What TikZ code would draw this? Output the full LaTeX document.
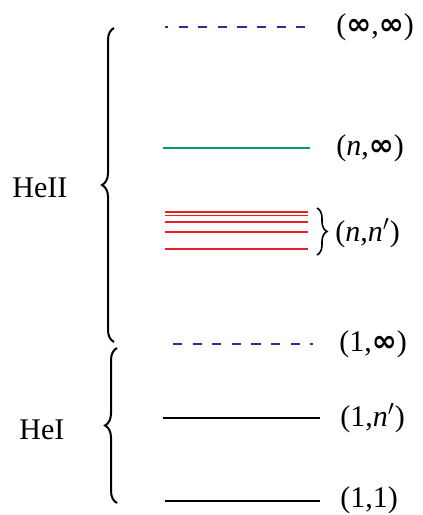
\documentclass[tikz,border=0pt]{standalone}
\usepackage{fontspec}
\setmainfont{Liberation Serif}
\newfontfamily\symfont{DejaVu Sans}
\usetikzlibrary{decorations.pathreplacing}
\definecolor{lvblue}{RGB}{45,45,150}
\definecolor{lvgreen}{RGB}{0,160,90}
\definecolor{lvred}{RGB}{235,30,35}
\newcommand{\infsym}{{\symfont\bfseries ∞}}
\tikzset{
  level/.style={line width=0.75pt},
  dashlevel/.style={level,lvblue,dash pattern=on 4.6pt off 5.2pt},
  lbl/.style={anchor=west,inner sep=0pt,font=\fontsize{15}{17}\selectfont},
  bigbrace/.style={decorate,decoration={brace,amplitude=6pt},line width=1pt},
}
\begin{document}
\begin{tikzpicture}[x=0.5pt,y=-0.5pt]
    \useasboundingbox (0,0) rectangle (423,515);
    % HeII levels
    \draw[dashlevel,dash phase=3pt] (165,27)--(315,27); %(inf,inf)
    \node[lbl] (infinf) at (336,27) {(\infsym,\infsym)};
    \draw[level,lvgreen] (163,148)--(310,148); %(n,inf)
    \node[lbl] (ninf) at (336,148) {(\textit{n},\infsym)};
    \foreach \y in {212,215.5,222,232,249}
        \draw[level,lvred] (165,\y)--(308,\y); %(n,n')
    \draw[bigbrace,decoration={amplitude=5pt},line width=0.8pt] (317,208)--(317,255);
    \node[lbl] (nnp) at (335,233) {(\textit{n},\textit{n}$'$)};
    % HeI levels
    \draw[dashlevel] (173,344)--(313,344); %(1,inf)
    \node[lbl] (oneinf) at (339,344) {(1,\infsym)};
    \draw[level] (163,418)--(320,418); %(1,n')
    \node[lbl] (onenp) at (340,418) {(1,\textit{n}$'$)};
    \draw[level] (165,501)--(320,501); %(1,1)
    \node[lbl] (oneone) at (340,500) {(1,1)};
    % braces
    \draw[bigbrace] (114,342)--(114,28);
    \node[lbl] (heii) at (12,188) {HeII};
    \draw[bigbrace] (117,503)--(117,348);
    \node[lbl] (hei) at (19,430) {HeI};
\end{tikzpicture}
\end{document}
